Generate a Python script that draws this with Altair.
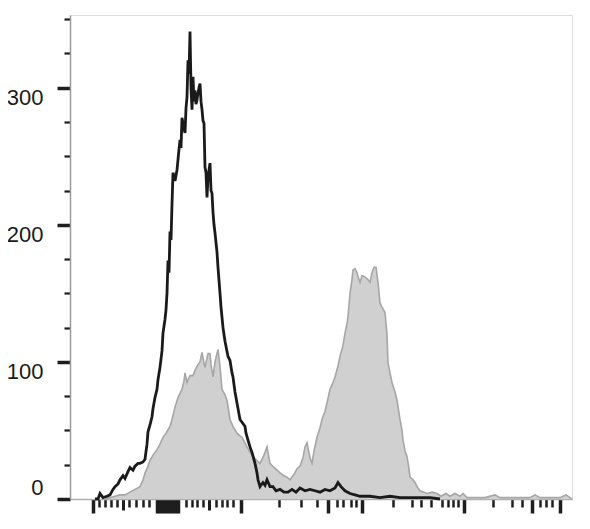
import altair as alt
import pandas as pd

# Black (unfilled) histogram: channel position, event count
black_x = [50, 56, 60, 66, 74, 80, 86, 90, 96, 100, 106, 110, 116, 120, 126, 130, 136, 140, 146, 150,
           154, 156, 160, 164, 166, 170, 174, 176, 180, 184, 186, 190, 192, 194, 196, 198, 200, 202, 204, 206,
           210, 214, 218, 220, 222, 224, 228, 230, 232, 234, 236, 238, 240, 242, 244, 246, 248, 250, 252, 254,
           256, 258, 260, 262, 264, 266, 268, 270, 272, 274, 276, 278, 280, 282, 284, 286, 288, 290, 294, 296,
           300, 302, 306, 310, 316, 320, 324, 326, 330, 334, 338, 340, 344, 350, 352, 356, 360, 364, 370, 374,
           376, 380, 386, 390, 394, 400, 406, 412, 420, 428, 436, 444, 452, 460, 470, 480, 490, 500, 510, 520,
           530, 536, 542, 550, 560, 570, 580, 600, 620, 640, 660, 680, 700, 720, 740]
black_y = [0, 0, 4, 1, 2, 3, 7, 9, 11, 14, 17, 15, 20, 23, 21, 24, 26, 26, 27, 29,
           40, 49, 54, 60, 66, 74, 80, 87, 96, 108, 121, 131, 138, 150, 174, 165, 195, 189, 215, 238,
           232, 240, 255, 262, 256, 278, 270, 267, 285, 293, 320, 310, 341, 300, 284, 308, 290, 298, 288, 291,
           296, 300, 303, 290, 284, 276, 274, 242, 238, 220, 235, 240, 245, 225, 223, 209, 200, 194, 180, 169,
           150, 140, 125, 115, 104, 101, 92, 89, 78, 70, 62, 58, 56, 53, 48, 43, 38, 34, 26, 19,
           14, 9, 12, 10, 14, 9, 9, 6, 7, 5, 5, 7, 5, 8, 6, 7, 6, 5, 7, 6,
           8, 12, 9, 6, 4, 3, 2, 2, 1, 2, 1, 1, 1, 1, 0]

# Gray (filled) histogram: channel position, event count
gray_x = [70, 80, 90, 100, 110, 120, 130, 140, 146, 150, 156, 160, 166, 174, 180, 186, 192, 200, 204, 210,
          216, 220, 224, 228, 230, 234, 236, 240, 246, 250, 256, 260, 264, 268, 270, 274, 276, 280, 282, 286,
          290, 294, 296, 300, 304, 310, 314, 320, 326, 334, 340, 344, 350, 354, 360, 366, 374, 380, 388, 394,
          400, 408, 414, 420, 428, 434, 440, 448, 454, 460, 466, 470, 474, 480, 484, 488, 494, 500, 504, 510,
          514, 520, 526, 530, 536, 540, 546, 550, 554, 556, 560, 564, 566, 570, 574, 578, 580, 584, 590, 596,
          600, 604, 608, 612, 616, 620, 624, 630, 634, 636, 640, 644, 650, 654, 660, 664, 666, 670, 674, 678,
          680, 686, 690, 696, 700, 708, 714, 724, 734, 742, 752, 760, 770, 780, 786, 794, 810, 830, 850, 860,
          880, 900, 920, 930, 940, 960, 980, 992, 1000, 1004]
gray_y = [0, 1, 2, 3, 3, 5, 7, 9, 14, 19, 24, 28, 32, 36, 40, 45, 48, 53, 58, 67,
          74, 77, 80, 86, 92, 85, 87, 90, 90, 94, 98, 100, 107, 99, 96, 103, 106, 106, 98, 89,
          100, 106, 109, 97, 80, 76, 72, 58, 53, 48, 46, 45, 41, 38, 34, 31, 28, 26, 32, 38,
          26, 23, 21, 19, 17, 16, 14, 18, 22, 24, 30, 38, 41, 30, 26, 35, 45, 52, 58, 64,
          70, 80, 85, 89, 97, 104, 112, 121, 128, 133, 150, 160, 167, 168, 165, 160, 158, 163, 162, 160,
          158, 165, 169, 169, 158, 143, 140, 136, 120, 99, 92, 85, 78, 72, 58, 50, 43, 35, 31, 22,
          16, 14, 12, 8, 6, 5, 4, 5, 4, 2, 4, 2, 4, 2, 4, 1, 1, 1, 3, 1,
          1, 1, 1, 3, 1, 1, 1, 3, 1, 0]

# Axis ticks
y_ticks = [0, 25, 50, 75, 100, 125, 150, 175, 200, 225, 250, 275, 300, 325, 350]
x_ticks_long = [45, 174, 180, 186, 192, 198, 204, 210, 216, 342, 516, 584, 788, 924, 980]
x_ticks_mid = [106, 278]
x_ticks_short = [58, 70, 82, 94, 118, 132, 146, 158, 232, 244, 254, 266, 292, 304, 314, 326,
                 418, 462, 494, 534, 546, 562, 572, 646, 684, 702, 722, 744, 756, 766, 776,
                 846, 884, 904, 940, 952, 964]

black_df = pd.DataFrame({"channel": black_x, "count": black_y})
gray_df = pd.DataFrame({"channel": gray_x, "count": gray_y})

x_all = sorted(x_ticks_long + x_ticks_mid + x_ticks_short)
x_size_expr = (f"indexof({x_ticks_long}, datum.value) >= 0 ? 14 : "
               f"(indexof({x_ticks_mid}, datum.value) >= 0 ? 11 : 8)")
x_width_expr = (f"indexof({x_ticks_long}, datum.value) >= 0 ? 3.5 : "
                f"(indexof({x_ticks_mid}, datum.value) >= 0 ? 3 : 2.5)")

x_enc = alt.X("channel:Q",
              scale=alt.Scale(domain=[0, 1004], nice=False, zero=False),
              axis=alt.Axis(values=x_all, tickCount=500, labels=False, title=None, grid=False,
                            domainColor="#b0b0b0", domainWidth=1.5,
                            tickColor="#1e1e1e",
                            tickSize=alt.ExprRef(x_size_expr),
                            tickWidth=alt.ExprRef(x_width_expr)))
y_enc = alt.Y("count:Q",
              scale=alt.Scale(domain=[0, 353], nice=False),
              axis=alt.Axis(values=y_ticks, tickCount=500, format="d", title=None, grid=False,
                            labelExpr="datum.value % 100 === 0 ? format(datum.value, 'd') : ''",
                            labelFont="Liberation Sans", labelFontSize=22, labelColor="#1a1a1a",
                            labelPadding=14,
                            labelBaseline=alt.ExprRef("datum.value === 0 ? 'bottom' : 'top'"),
                            domainColor="#9a9a9a", domainWidth=1.5,
                            tickColor="#1e1e1e",
                            tickSize=alt.ExprRef("datum.value % 100 === 0 ? 13 : 6"),
                            tickWidth=alt.ExprRef("datum.value % 100 === 0 ? 3.5 : 2.2")))

gray_area = alt.Chart(gray_df).mark_area(color="#d0d0d0", interpolate="linear").encode(
    x=x_enc, y=y_enc)
gray_line = alt.Chart(gray_df).mark_line(color="#a6a6a6", strokeWidth=1.6).encode(
    x="channel:Q", y="count:Q")
black_line = alt.Chart(black_df).mark_line(color="#1a1a1a", strokeWidth=2.8).encode(
    x="channel:Q", y="count:Q")

chart = alt.layer(gray_area, gray_line, black_line).properties(
    width=502, height=484,
    autosize=alt.AutoSizeParams(type="none"),
    padding={"left": 62, "top": 7, "right": 10, "bottom": 22},
).configure_view(stroke="#2a2a2a", strokeWidth=1.5).configure(background="white")

chart.save("out.html", embed_options={"renderer": "svg", "actions": False})
